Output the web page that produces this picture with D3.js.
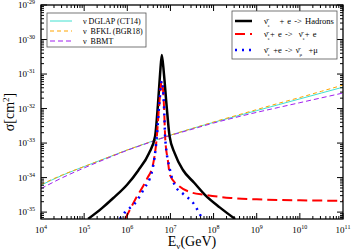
<!DOCTYPE html>
<html>
<head>
<meta charset="utf-8">
<script src="https://cdn.jsdelivr.net/npm/d3@7"></script>
<style>
  body { margin: 0; background: #fff; }
  text { font-family: "Liberation Serif", "DejaVu Serif", serif; }
</style>
</head>
<body>
<script>
// values are log10(E/GeV), log10(sigma/cm^2)
const dglap = [[4,-34.22],[4.5,-33.93],[5,-33.68],[5.5,-33.44],[6,-33.2],[6.5,-32.98],[7,-32.77],[7.5,-32.58],[8,-32.4],[8.5,-32.23],[9,-32.06],[9.5,-31.89],[10,-31.72],[10.5,-31.55],[11,-31.38]];
const bfkl = [[4,-34.2],[4.5,-33.92],[5,-33.68],[5.5,-33.44],[6,-33.2],[6.5,-32.98],[7,-32.77],[7.5,-32.58],[8,-32.39],[8.5,-32.21],[9,-32.03],[9.5,-31.85],[10,-31.68],[10.5,-31.5],[11,-31.32]];
const bbmt = [[4,-34.32],[4.5,-34.0],[5,-33.72],[5.5,-33.46],[6,-33.21],[6.5,-32.99],[7,-32.78],[7.5,-32.6],[8,-32.42],[8.5,-32.26],[9,-32.11],[9.5,-31.97],[10,-31.83],[10.5,-31.69],[11,-31.55]];
const hadrons = [[5.09,-35.2],[5.4,-34.9],[5.67,-34.6],[6.0,-34.2],[6.25,-33.8],[6.5,-33.3],[6.645,-32.8],[6.71,-31.9],[6.76,-31.0],[6.8,-30.45],[6.85,-31.0],[6.91,-31.9],[6.98,-32.8],[7.1,-33.3],[7.29,-33.78],[7.55,-34.15],[7.8,-34.5],[8.15,-34.87],[8.5,-35.2]];
const eChannel = [[5.95,-35.2],[6.2,-34.6],[6.45,-34.05],[6.6,-33.6],[6.68,-32.88],[6.74,-31.9],[6.8,-31.2],[6.85,-31.9],[6.88,-32.88],[6.94,-33.5],[6.99,-33.93],[7.2,-34.25],[7.46,-34.42],[7.8,-34.5],[8.39,-34.59],[9,-34.63],[10,-34.66],[11,-34.67]];
const muChannel = [[5.83,-35.2],[5.95,-35.0],[6.18,-34.74],[6.37,-34.36],[6.58,-33.78],[6.68,-32.88],[6.74,-31.9],[6.8,-31.2],[6.85,-31.9],[6.88,-32.88],[6.99,-33.78],[7.1,-34.22],[7.3,-34.48],[7.53,-34.74],[7.74,-35.2]];
const xTickExps = [4,5,6,7,8,9,10,11];
const yTickExps = [-35,-34,-33,-32,-31,-30,-29];

const W = 353, H = 250;
const svg = d3.select("body").append("svg").attr("width", W).attr("height", H);

const x = d3.scaleLog().domain([1e4, 1e11]).range([41, 343]);
const y = d3.scaleLog().domain([Math.pow(10,-35.2), 1e-29]).range([219, 5]);

svg.append("clipPath").attr("id", "clip").append("rect")
  .attr("x", 41).attr("y", 5).attr("width", 302).attr("height", 214);

const line = d3.line()
  .x(d => x(Math.pow(10, d[0])))
  .y(d => y(Math.pow(10, d[1])))
  .curve(d3.curveMonotoneX);

const plot = svg.append("g").attr("clip-path", "url(#clip)");

const series = [
  {data: dglap, color: "#40e0d0", w: 1, dash: null},
  {data: bfkl, color: "#ffa500", w: 1, dash: "4,3"},
  {data: bbmt, color: "#a020f0", w: 1, dash: "5,3"},
  {data: hadrons, color: "#000", w: 2.5, dash: null},
  {data: eChannel, color: "#ff0000", w: 2, dash: "10,5"},
  {data: muChannel, color: "#0000ff", w: 2.5, dash: "2,5"}
];
series.forEach(s => {
  plot.append("path").datum(s.data)
    .attr("d", line).attr("fill", "none")
    .attr("stroke", s.color).attr("stroke-width", s.w)
    .attr("stroke-dasharray", s.dash);
});

// ticks on all sides, pointing in
const ax = svg.append("g").attr("stroke", "#000");
const minorX = [], minorY = [];
for (let e = 4; e < 11; e++) for (let k = 2; k < 10; k++) minorX.push(k * Math.pow(10, e));
for (let e = -36; e < -29; e++) for (let k = 2; k < 10; k++) {
  const v = k * Math.pow(10, e);
  if (v > Math.pow(10,-35.2) && v < 1e-29) minorY.push(v);
}
xTickExps.forEach(e => {
  const px = x(Math.pow(10, e));
  ax.append("line").attr("x1", px).attr("x2", px).attr("y1", 219).attr("y2", 213);
  ax.append("line").attr("x1", px).attr("x2", px).attr("y1", 5).attr("y2", 11);
});
minorX.forEach(v => {
  const px = x(v);
  ax.append("line").attr("x1", px).attr("x2", px).attr("y1", 219).attr("y2", 216);
  ax.append("line").attr("x1", px).attr("x2", px).attr("y1", 5).attr("y2", 8);
});
yTickExps.forEach(e => {
  const py = y(Math.pow(10, e));
  ax.append("line").attr("x1", 41).attr("x2", 47).attr("y1", py).attr("y2", py);
  ax.append("line").attr("x1", 343).attr("x2", 337).attr("y1", py).attr("y2", py);
});
minorY.forEach(v => {
  const py = y(v);
  ax.append("line").attr("x1", 41).attr("x2", 44).attr("y1", py).attr("y2", py);
  ax.append("line").attr("x1", 343).attr("x2", 340).attr("y1", py).attr("y2", py);
});

svg.append("rect").attr("x", 41).attr("y", 5).attr("width", 302).attr("height", 214)
  .attr("fill", "none").attr("stroke", "#000").attr("stroke-width", 1.3);

// tick labels
xTickExps.forEach(e => {
  const t = svg.append("text").attr("x", x(Math.pow(10, e))).attr("y", 233)
    .attr("text-anchor", "middle").attr("font-size", 9);
  t.append("tspan").text("10");
  t.append("tspan").attr("dy", -4).attr("font-size", 6).text(e);
});
yTickExps.forEach(e => {
  const t = svg.append("text").attr("x", 18).attr("y", y(Math.pow(10, e)) + 3)
    .attr("font-size", 9);
  t.append("tspan").text("10");
  t.append("tspan").attr("dy", -4).attr("font-size", 6).text(e);
});

// axis titles
const xt = svg.append("text").attr("x", 192).attr("y", 246).attr("text-anchor", "middle").attr("font-size", 14);
xt.append("tspan").text("E");
xt.append("tspan").attr("dy", 3).attr("font-size", 9).text("ν");
xt.append("tspan").attr("dy", -3).text("(GeV)");

const yt = svg.append("text").attr("transform", "translate(14,112) rotate(-90)")
  .attr("text-anchor", "middle").attr("font-size", 14);
yt.append("tspan").text("σ[cm");
yt.append("tspan").attr("dy", -5).attr("font-size", 9).text("2");
yt.append("tspan").attr("dy", 5).text("]");

// legends
const leg1 = svg.append("g");
leg1.append("rect").attr("x", 47).attr("y", 13).attr("width", 99).attr("height", 34)
  .attr("fill", "#fff").attr("stroke", "#555").attr("stroke-width", 0.8);
const l1 = [["ν DGLAP (CT14)", 0], ["ν  BFKL (BGR18)", 1], ["ν  BBMT", 2]];
l1.forEach(([label, i]) => {
  const s = series[i], py = 21 + i * 10;
  leg1.append("line").attr("x1", 50).attr("x2", 72).attr("y1", py).attr("y2", py)
    .attr("stroke", s.color).attr("stroke-width", s.w).attr("stroke-dasharray", s.dash);
  leg1.append("text").attr("x", 83).attr("y", py + 3).attr("font-size", 8)
    .attr("xml:space", "preserve").text(label);
});

const leg2 = svg.append("g");
leg2.append("rect").attr("x", 232).attr("y", 11).attr("width", 105).attr("height", 48)
  .attr("fill", "#fff").attr("stroke", "#555").attr("stroke-width", 0.8);
const l2 = [
  [[["ν̄", 0], ["e", 1], ["   + e -> Hadrons", 0]], 3],
  [[["ν̄", 0], ["e", 1], ["+ e ->  ", 0], ["ν̄", 0], ["e", 1], ["+ e", 0]], 4],
  [[["ν̄", 0], ["e", 1], [" +e -> ", 0], ["ν̄", 0], ["μ", 1], ["  +μ", 0]], 5]
];
const legY = [21, 34, 50];
l2.forEach(([parts, i], j) => {
  const s = series[i], py = legY[j];
  leg2.append("line").attr("x1", 235).attr("x2", 252).attr("y1", py).attr("y2", py)
    .attr("stroke", s.color).attr("stroke-width", s.w).attr("stroke-dasharray", s.dash);
  const t = leg2.append("text").attr("x", 264).attr("y", py + 3).attr("font-size", 8.5)
    .attr("xml:space", "preserve").attr("word-spacing", 1);
  let sub = 0;
  parts.forEach(([txt, isSub]) => {
    const ts = t.append("tspan").text(txt);
    if (isSub && !sub) { ts.attr("dy", 3).attr("font-size", 5); sub = 1; }
    else if (!isSub && sub) { ts.attr("dy", -3); sub = 0; }
  });
});
</script>
</body>
</html>
